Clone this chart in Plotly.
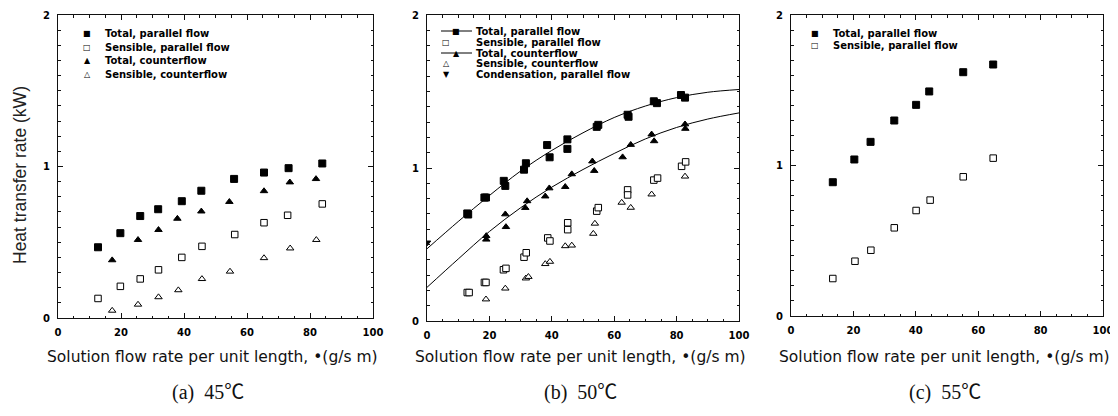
import plotly.graph_objects as go

W, H = 1118, 416
OFF = 8  # page body margin of the browser
FW, FH = W - OFF, H - OFF

# ---------------- data: (a) 45 C ----------------
a_tp_x = [12.7, 19.8, 26.1, 31.8, 39.3, 45.5, 55.9, 65.4, 73.2, 83.9]
a_tp_y = [0.467, 0.56, 0.673, 0.718, 0.771, 0.84, 0.918, 0.96, 0.989, 1.02]
a_sp_x = [12.7, 19.8, 26.1, 31.9, 39.3, 45.7, 56.1, 65.4, 72.9, 83.9]
a_sp_y = [0.129, 0.209, 0.258, 0.318, 0.40, 0.473, 0.551, 0.629, 0.678, 0.753]
a_tc_x = [17.2, 25.4, 31.9, 37.9, 45.5, 54.4, 65.4, 73.6, 81.9]
a_tc_y = [0.382, 0.516, 0.582, 0.656, 0.704, 0.767, 0.838, 0.896, 0.918]
a_sc_x = [17.2, 25.4, 31.9, 38.2, 45.7, 54.6, 65.4, 73.7, 82.0]
a_sc_y = [0.049, 0.089, 0.138, 0.184, 0.258, 0.307, 0.396, 0.46, 0.516]

# ---------------- data: (b) 50 C ----------------
b_tp_x = [12.9, 13.2, 18.4, 18.9, 24.6, 25.1, 31.1, 31.7, 38.5, 39.3, 45.0, 45.0,
          54.4, 54.9, 64.3, 64.6, 72.7, 73.7, 81.4, 82.7]
b_tp_y = [0.703, 0.696, 0.807, 0.807, 0.916, 0.883, 0.989, 1.031, 1.15, 1.07, 1.187, 1.125,
          1.269, 1.282, 1.348, 1.335, 1.436, 1.424, 1.477, 1.460]
b_sp_x = [12.9, 13.5, 18.4, 18.9, 24.5, 25.3, 31.1, 31.8, 38.7, 39.4, 45.1, 45.1,
          54.4, 54.9, 64.3, 64.3, 72.7, 73.9, 81.6, 82.9]
b_sp_y = [0.186, 0.186, 0.252, 0.252, 0.335, 0.344, 0.417, 0.446, 0.543, 0.523, 0.642, 0.597,
          0.718, 0.741, 0.857, 0.824, 0.921, 0.934, 1.011, 1.04]
b_tc_x = [19.0, 19.0, 25.1, 25.3, 31.5, 32.1, 37.9, 39.2, 44.3, 46.4, 53.0, 53.6,
          62.7, 65.3, 72.0, 72.8, 82.7, 82.8]
b_tc_y = [0.556, 0.533, 0.698, 0.615, 0.74, 0.784, 0.815, 0.868, 0.877, 0.96, 1.044, 0.982,
          1.071, 1.152, 1.22, 1.176, 1.286, 1.257]
b_sc_x = [18.9, 25.1, 31.7, 32.5, 37.9, 39.4, 44.3, 46.4, 53.3, 53.8, 62.4, 65.3, 72.0, 82.7]
b_sc_y = [0.142, 0.213, 0.279, 0.289, 0.373, 0.388, 0.49, 0.494, 0.571, 0.637, 0.774, 0.741,
          0.828, 0.945]
b_cond_x = [0]
b_cond_y = [0.512]
b_fit_x = [0, 10, 20, 30, 40, 50, 60, 70, 80, 90, 100]
b_fit_p = [0.472, 0.65, 0.82, 0.98, 1.115, 1.23, 1.33, 1.405, 1.46, 1.495, 1.513]
b_fit_c = [0.22, 0.405, 0.585, 0.74, 0.875, 0.99, 1.095, 1.19, 1.265, 1.32, 1.36]

# ---------------- data: (c) 55 C ----------------
c_tp_x = [13.4, 20.3, 25.5, 33.1, 40.1, 44.3, 55.2, 64.8]
c_tp_y = [0.889, 1.04, 1.157, 1.299, 1.403, 1.492, 1.62, 1.671]
c_sp_x = [13.4, 20.5, 25.6, 33.1, 40.1, 44.6, 55.2, 64.8]
c_sp_y = [0.249, 0.364, 0.437, 0.586, 0.701, 0.77, 0.925, 1.049]

x_title = "Solution flow rate per unit length, \u2022(g/s m)"
y_title = "Heat transfer rate (kW)"
captions = ["(a)\u00a0\u00a045\u2103", "(b)\u00a0\u00a050\u2103", "(c)\u00a0\u00a055\u2103"]
caption_x = [208, 581, 945]
leg_a = ["Total, parallel flow", "Sensible, parallel flow", "Total, counterflow", "Sensible, counterflow"]
leg_b = ["Total, parallel flow", "Sensible, parallel flow", "Total, counterflow",
         "Sensible, counterflow", "Condensation, parallel flow"]
leg_c = ["Total, parallel flow", "Sensible, parallel flow"]

# ---------------- layout geometry (window pixels) ----------------
panels = [  # left, right, top, bottom
    (58, 373, 15, 318),
    (427, 739, 15, 321),
    (791, 1103, 15, 316),
]

def px(x):
    return (x - OFF) / FW

def py(y):
    return 1 - (y - OFF) / FH

fig = go.Figure()

def pts(x, y, sym, ax, filled=True, size=6):
    fig.add_trace(go.Scatter(
        x=x, y=y, mode="markers", xaxis="x" + ax, yaxis="y" + ax, showlegend=False,
        marker=dict(symbol=sym, size=size, color="black" if filled else "white",
                    line=dict(color="black", width=1)),
    ))

SQ, OSQ, TR = 7, 6.5, 6.5
# (a)
pts(a_tp_x, a_tp_y, "square", "", size=SQ)
pts(a_sp_x, a_sp_y, "square", "", filled=False, size=OSQ)
pts(a_tc_x, a_tc_y, "triangle-up", "", size=TR)
pts(a_sc_x, a_sc_y, "triangle-up", "", filled=False, size=TR)

# (b)
for fy in (b_fit_p, b_fit_c):
    fig.add_trace(go.Scatter(x=b_fit_x, y=fy, mode="lines", xaxis="x2", yaxis="y2",
                             showlegend=False, line=dict(color="black", width=1, shape="spline")))
pts(b_tp_x, b_tp_y, "square", "2", size=SQ)
pts(b_sp_x, b_sp_y, "square", "2", filled=False, size=OSQ)
pts(b_tc_x, b_tc_y, "triangle-up", "2", size=TR)
pts(b_sc_x, b_sc_y, "triangle-up", "2", filled=False, size=TR)
pts(b_cond_x, b_cond_y, "triangle-down", "2", size=TR)

# (c)
pts(c_tp_x, c_tp_y, "square", "3", size=SQ)
pts(c_sp_x, c_sp_y, "square", "3", filled=False, size=OSQ)

tickfont = dict(family="DejaVu Sans", size=10, color="black", weight="bold")
axis_common = dict(showline=True, mirror="allticks", linecolor="#111", linewidth=1,
                   ticks="inside", ticklen=5, tickcolor="#111", tickwidth=1,
                   showgrid=False, zeroline=False, tickfont=tickfont, fixedrange=True,
                   automargin=False, tickmode="linear", tick0=0)

layout = dict(width=FW, height=FH, margin=dict(l=0, r=0, t=0, b=0, autoexpand=False),
              paper_bgcolor="white", plot_bgcolor="white", showlegend=False,
              template="none")
for i, (l, r, t, b) in enumerate(panels):
    s = "" if i == 0 else str(i + 1)
    layout["xaxis" + s] = dict(domain=[px(l), px(r)], range=[0, 100], anchor="y" + s, dtick=20,
                               ticklabelstandoff=5,
                               minor=dict(ticks="inside", dtick=5, ticklen=2.5, tickcolor="#111",
                                          showgrid=False),
                               **axis_common)
    layout["yaxis" + s] = dict(domain=[py(b), py(t)], range=[0, 2], anchor="x" + s, dtick=1,
                               ticklabelstandoff=5,
                               minor=dict(ticks="inside", dtick=0.1, ticklen=2.5, tickcolor="#111",
                                          showgrid=False),
                               **axis_common)
fig.update_layout(**layout)

ann = []
shapes = []
# y title
ann.append(dict(text=y_title, x=px(20), y=py(175), xref="paper", yref="paper", textangle=-90,
                showarrow=False, xanchor="center", yanchor="middle",
                font=dict(family="Liberation Sans", size=17.5, color="#222")))
centers = [(l + r) / 2 for (l, r, t, b) in panels]
for i, c in enumerate(centers):
    ann.append(dict(text=x_title, x=px(c - 3), y=py(357), xref="paper", yref="paper",
                    showarrow=False, xanchor="center", yanchor="middle",
                    font=dict(family="DejaVu Sans", size=15.5, color="#111")))
    ann.append(dict(text=captions[i], x=px(caption_x[i]), y=py(392), xref="paper", yref="paper",
                    showarrow=False, xanchor="center", yanchor="middle",
                    font=dict(family="Liberation Serif, Noto Sans CJK SC", size=20, color="#111")))

legfont = dict(family="DejaVu Sans", size=10, color="black", weight="bold")
symfont = dict(family="DejaVu Sans", size=8, color="black")

def leg_row(xs, xt, y, glyph, text):
    ann.append(dict(text=glyph, x=px(xs), y=py(y), xref="paper", yref="paper", showarrow=False,
                    xanchor="center", yanchor="middle", font=symfont))
    ann.append(dict(text=text, x=px(xt), y=py(y), xref="paper", yref="paper", showarrow=False,
                    xanchor="left", yanchor="middle", font=legfont))

glyph_a = ["\u25a0", "\u25a1", "\u25b2", "\u25b3"]
rows_a = [33, 47, 61, 75]
for g, t, y in zip(glyph_a, leg_a, rows_a):
    leg_row(87, 103, y, g, t)

glyph_b = ["\u25a0", "\u25a1", "\u25b2", "\u25b3", "\u25bc"]
rows_b = [31, 42, 53, 64, 75]
for k, (g, t, y) in enumerate(zip(glyph_b, leg_b, rows_b)):
    xs = 456 if k in (0, 2) else 446
    if k in (0, 2):
        shapes.append(dict(type="line", xref="paper", yref="paper", x0=px(441), x1=px(472),
                           y0=py(y), y1=py(y), line=dict(color="black", width=1)))
    leg_row(xs, 474, y, g, t)

glyph_c = ["\u25a0", "\u25a1"]
rows_c = [33, 45]
for g, t, y in zip(glyph_c, leg_c, rows_c):
    leg_row(815, 831, y, g, t)

fig.update_layout(annotations=ann, shapes=shapes)
fig.write_html("out.html")
